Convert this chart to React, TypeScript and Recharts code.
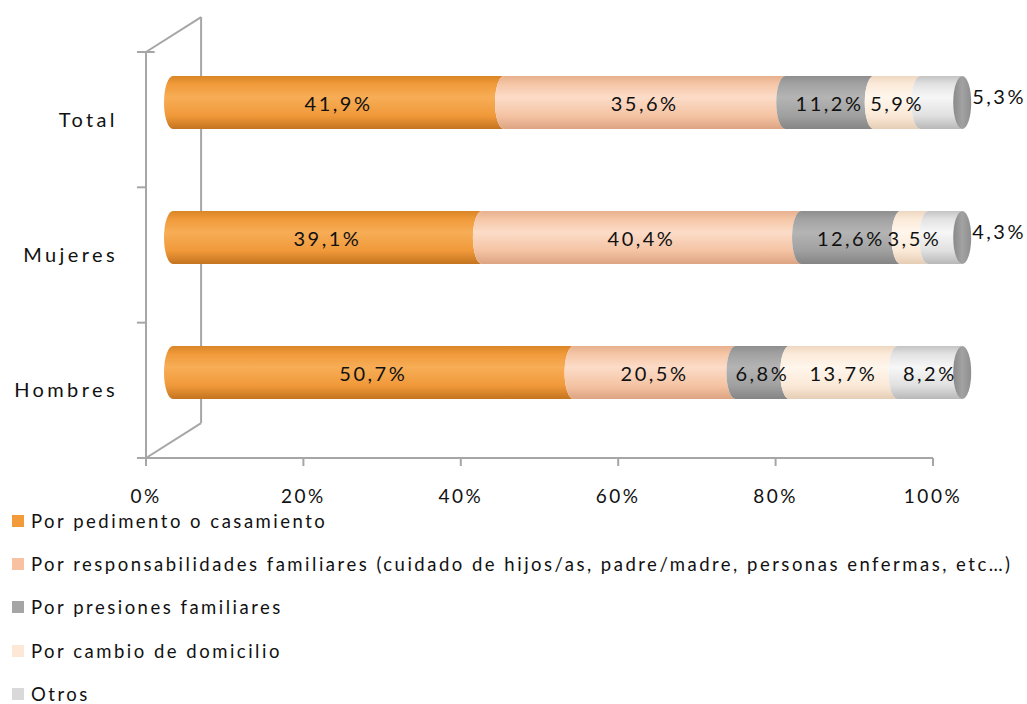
import React from 'react';
import { BarChart, Bar, XAxis, YAxis, ReferenceLine, Legend, LabelList } from 'recharts';

// ---------- data ----------
const categories = ['Total', 'Mujeres', 'Hombres'];
const pedimento = [41.9, 39.1, 50.7];
const responsabilidades = [35.6, 40.4, 20.5];
const presiones = [11.2, 12.6, 6.8];
const cambio = [5.9, 3.5, 13.7];
const otros = [5.3, 4.3, 8.2];
const seriesNames = [
  'Por pedimento o casamiento',
  'Por responsabilidades familiares (cuidado de hijos/as, padre/madre, personas enfermas, etc…)',
  'Por presiones familiares',
  'Por cambio de domicilio',
  'Otros',
];
const xTicks = [0, 20, 40, 60, 80, 100];

const seriesKeys = ['pedimento', 'responsabilidades', 'presiones', 'cambio', 'otros'];
const seriesValues = [pedimento, responsabilidades, presiones, cambio, otros];
const data = categories.map((name, i) => {
  const row: any = { name };
  seriesKeys.forEach((k, j) => (row[k] = seriesValues[j][i]));
  return row;
});

// ---------- styles ----------
const FONT = 'Lato, "Liberation Sans", sans-serif';
const AXIS = '#A6A6A6';
const legendColors = ['#F39A3A', '#F8C2A2', '#A5A5A5', '#FDE8D6', '#D9D9D9'];
const gradStops: string[][] = [
  ['#D98526', '#F09A3A', '#F7AD56', '#F0993A', '#C4741F'],
  ['#E7B08E', '#F5C6A6', '#FCDCC8', '#F4C3A3', '#DDA482'],
  ['#8E8E8E', '#A2A2A2', '#B4B4B4', '#A0A0A0', '#858585'],
  ['#EED7C0', '#FBEAD9', '#FFF6EC', '#FBE9D7', '#E5CDB5'],
  ['#C4C4C4', '#E2E2E2', '#F7F7F7', '#E0E0E0', '#B8B8B8'],
];
const stopOffsets = [0, 0.15, 0.4, 0.75, 1];
const RX = 9; // ellipse radius of cylinder ends
// In a vertical-layout chart the extra Y axis is index based: it spans 0 .. (n-1) from top to bottom.
const FRAME_MAX = categories.length - 1;
const DEPTH_X = 7; // 3D wall depth in front-axis % units
const DEPTH_Y = 0.172; // 3D wall depth in frame-axis units
const bandEdges = categories.map((_, i) => (i * FRAME_MAX) / categories.length).concat(FRAME_MAX);

const fmt = (v: number) => v.toFixed(1).replace('.', ',') + '%';

const makeShape = (idx: number, last: boolean) => (props: any) => {
  const { x, y, width, height } = props;
  if (width == null || height == null) return <g />;
  const ry = height / 2;
  const top = y;
  const bot = y + height;
  const xs = x;
  const xe = x + width;
  const d = `M${xs},${top} L${xe},${top} A${RX},${ry} 0 0 0 ${xe},${bot} L${xs},${bot} A${RX},${ry} 0 0 1 ${xs},${top} Z`;
  return (
    <g>
      <path d={d} fill={`url(#grad${idx})`} />
      {last && <ellipse cx={xe} cy={y + ry} rx={RX} ry={ry} fill="url(#capGrad)" />}
    </g>
  );
};

const makeLabel = (last: boolean) => (props: any) => {
  const vb = props.viewBox || {};
  const x = props.x ?? vb.x;
  const y = props.y ?? vb.y;
  const width = props.width ?? vb.width;
  const height = props.height ?? vb.height;
  const outside = last && width < 55;
  const cx = outside ? x + width + RX + 1 : x + width / 2;
  const cy = y + height / 2 - (outside ? 7 : 0);
  return (
    <text
      x={cx}
      y={cy}
      textAnchor={outside ? 'start' : 'middle'}
      dominantBaseline="central"
      fontFamily={FONT}
      fontSize={20}
      letterSpacing={2.5}
      fill="#111"
    >
      {fmt(props.value)}
    </text>
  );
};

const renderLegend = () => (
  <div style={{ fontFamily: FONT, fontSize: 18.5, letterSpacing: 2.5, color: '#111', whiteSpace: 'nowrap' }}>
    {seriesNames.map((n, i) => (
      <div key={n} style={{ display: 'flex', alignItems: 'center', height: 43.3 }}>
        <span style={{ width: 12, height: 12, background: legendColors[i], marginRight: 7, flex: 'none' }} />
        <span>{n}</span>
      </div>
    ))}
  </div>
);

const frameLine = (key: string, segment: any) => (
  <ReferenceLine
    key={key}
    xAxisId="front"
    yAxisId="frame"
    ifOverflow="visible"
    stroke={AXIS}
    strokeWidth={2}
    segment={segment}
    {...({ zIndex: 0 } as any)}
  />
);

export default function App() {
  return (
    <div style={{ position: 'absolute', left: 0, top: 0, background: '#fff' }}>
      <BarChart
        width={1027}
        height={704}
        data={data}
        layout="vertical"
        margin={{ top: 17, right: 64, bottom: 186, left: 16 }}
      >
        <defs>
          {gradStops.map((stops, i) => (
            <linearGradient key={i} id={`grad${i}`} x1="0" y1="0" x2="0" y2="1">
              {stops.map((c, j) => (
                <stop key={j} offset={stopOffsets[j]} stopColor={c} />
              ))}
            </linearGradient>
          ))}
          <linearGradient id="capGrad" x1="0" y1="0" x2="1" y2="0">
            <stop offset={0} stopColor="#8A8A8A" />
            <stop offset={0.5} stopColor="#A2A2A2" />
            <stop offset={1} stopColor="#8E8E8E" />
          </linearGradient>
        </defs>

        <XAxis xAxisId="bars" type="number" domain={[0, 100]} hide height={0} padding={{ left: 27, right: 0 }} />
        <XAxis
          xAxisId="front"
          type="number"
          domain={[0, 100]}
          allowDataOverflow
          ticks={xTicks}
          padding={{ left: 0, right: 30 }}
          axisLine={false}
          tickLine={{ stroke: AXIS, strokeWidth: 2 }}
          tickSize={8}
          tickMargin={24}
          height={60}
          tickFormatter={(v: number) => `${v}%`}
          tick={{ fontFamily: FONT, fontSize: 19, fill: '#111', letterSpacing: 2.5 }}
        />

        <YAxis yAxisId="bars" type="category" dataKey="name" hide width={0} padding={{ top: 18, bottom: 18 }} />
        <YAxis yAxisId="frame" type="number" domain={[0, FRAME_MAX]} allowDataOverflow hide width={0} padding={{ top: 35, bottom: 0 }} />
        <YAxis
          yAxisId="front"
          type="category"
          dataKey="name"
          width={130}
          padding={{ top: 35, bottom: 0 }}
          axisLine={false}
          tickLine={false}
          tickSize={9}
          tickMargin={19}
          tick={{ fontFamily: FONT, fontSize: 20, fill: '#111', letterSpacing: 3.4 }}
        />

        {/* 3D wall frame (behind the bars) */}
        {frameLine('back', [{ x: DEPTH_X, y: -DEPTH_Y }, { x: DEPTH_X, y: FRAME_MAX - DEPTH_Y }])}
        {frameLine('topDiag', [{ x: 0, y: 0 }, { x: DEPTH_X, y: -DEPTH_Y }])}
        {frameLine('botDiag', [{ x: 0, y: FRAME_MAX }, { x: DEPTH_X, y: FRAME_MAX - DEPTH_Y }])}
        {/* front axes */}
        {frameLine('yLine', [{ x: 0, y: 0 }, { x: 0, y: FRAME_MAX }])}
        {frameLine('xLine', [{ x: 0, y: FRAME_MAX }, { x: 100, y: FRAME_MAX }])}
        {bandEdges.map((v, i) =>
          frameLine(`tick${i}`, [{ x: -1.15, y: v }, { x: i === 0 ? 1.1 : 0, y: v }])
        )}

        {seriesKeys.map((k, i) => (
          <Bar
            key={k}
            dataKey={k}
            name={seriesNames[i]}
            stackId="a"
            xAxisId="bars"
            yAxisId="bars"
            barSize={53}
            fill={legendColors[i]}
            isAnimationActive={false}
            shape={makeShape(i, i === seriesKeys.length - 1)}
          >
            <LabelList dataKey={k} content={makeLabel(i === seriesKeys.length - 1)} />
          </Bar>
        ))}

        <Legend
          layout="vertical"
          align="center"
          verticalAlign="middle"
          content={renderLegend}
          wrapperStyle={{ left: 12, top: 499, width: 1015 }}
        />
      </BarChart>
    </div>
  );
}
